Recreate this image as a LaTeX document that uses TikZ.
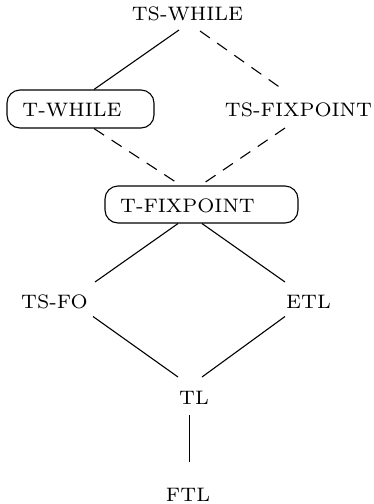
\documentclass[tikz,border=0pt]{standalone}
\usepackage{fontspec}
\usetikzlibrary{calc}
\newfontfamily\classfont{lmroman7-regular.otf}
\tikzset{
  lbl/.style={inner sep=0pt, anchor=base, font=\classfont\fontsize{19.5}{21}\selectfont},
  roundbox/.style={draw, line width=1.1pt, rounded corners=13pt, inner sep=0pt},
  link/.style={line width=1.1pt},
  dlink/.style={link, dash pattern=on 12pt off 9pt},
}
\begin{document}
\begin{tikzpicture}[x=1pt, y=-1pt]
  \useasboundingbox (0,0) rectangle (374,504);

  % frames of the two boxed classes
  \node[roundbox, minimum width=147pt, minimum height=38pt] (twbox) at (80.5,109) {};
  \node[roundbox, minimum width=193pt, minimum height=37pt] (tfbox) at (201.5,204.5) {};

  % class names
  \node[lbl] (tsw)  at (187.5,20) {TS-WHILE};
  \node[lbl] (tw)   at (72,116.5) {T-WHILE};
  \node[lbl] (tsf)  at (298.5,116.5) {TS-FIXPOINT};
  \node[lbl] (tf)   at (187.5,212.5) {T-FIXPOINT};
  \node[lbl] (tsfo) at (54.5,308.5) {TS-FO};
  \node[lbl] (etl)  at (308.5,308.5) {ETL};
  \node[lbl] (tl)   at (194,404.5) {TL};
  \node[lbl] (ftl)  at (188,501) {FTL};

  % inclusions
  \draw[link]  ([shift={(-8.5,10)}]tsw.base) -- ([xshift=13.5pt]twbox.north);
  \draw[dlink] ([shift={(12.5,11)}]tsw.base) -- ([shift={(-13.5,-25.5)}]tsf.base);
  \draw[dlink] ([xshift=13.5pt]twbox.south) -- ([xshift=-20.5pt]tfbox.north);
  \draw[dlink] ([shift={(-13.5,11.5)}]tsf.base) -- ([xshift=-1pt]tfbox.north);
  \draw[link]  ([xshift=-23.5pt]tfbox.south) -- ([shift={(40.5,-26.5)}]tsfo.base);
  \draw[link]  ([xshift=0.5pt]tfbox.south) -- ([shift={(-23.5,-26.5)}]etl.base);
  \draw[link]  ([shift={(38.5,8)}]tsfo.base) -- ([shift={(-16,-27.5)}]tl.base);
  \draw[link]  ([shift={(-23.5,8)}]etl.base) -- ([shift={(8,-27.5)}]tl.base);
  \draw[link]  ([shift={(-4.7,10.5)}]tl.base) -- ([shift={(1.3,-39)}]ftl.base);
\end{tikzpicture}
\end{document}
